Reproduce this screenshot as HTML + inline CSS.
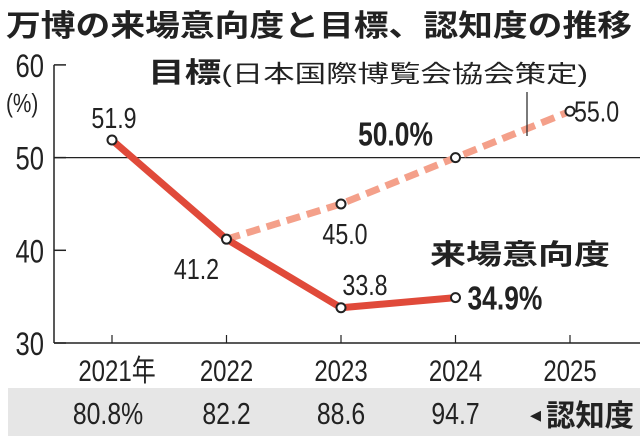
<!DOCTYPE html>
<html><head><meta charset="utf-8"><style>
body{margin:0;background:#fff;}
svg{display:block;font-family:"Liberation Sans","Noto Sans CJK JP",sans-serif;}
</style></head><body>
<svg width="640" height="440" viewBox="0 0 640 440">
<text x="6" y="36" font-size="30" font-weight="bold" fill="#222" textLength="626" lengthAdjust="spacingAndGlyphs">万博の来場意向度と目標、認知度の推移</text>
<g id="axes"></g>
<g id="series"></g>
<text x="148" y="82" font-size="28" font-weight="bold" fill="#222" textLength="440" lengthAdjust="spacingAndGlyphs">目標<tspan font-weight="normal" font-size="24">(日本国際博覧会協会策定)</tspan></text>
<line x1="527" y1="92" x2="527" y2="136" stroke="#222" stroke-width="1.2"/>
<text x="430" y="264" font-size="28" font-weight="bold" fill="#222" textLength="180" lengthAdjust="spacingAndGlyphs">来場意向度</text>
<rect x="8" y="388" width="632" height="48" fill="#e6e6e6"/>
<g id="aware"></g>
<text x="530" y="422" font-size="22" fill="#222">◂</text>
<text x="546" y="426" font-size="30" font-weight="bold" fill="#222" textLength="88" lengthAdjust="spacingAndGlyphs">認知度</text>
</svg>
<script>
const years=["2021年","2022","2023","2024","2025"];
const intent=[51.9,41.2,33.8,34.9];
const intentLabels=["51.9","41.2","33.8","34.9%"];
const targetYears=[1,2,3,4];
const targetVals=[41.2,45.0,50.0,55.0];
const targetLabels=[null,"45.0","50.0%","55.0"];
const yTicks=[30,40,50,60];
const awareness=["80.8%","82.2","88.6","94.7"];
const NS="http://www.w3.org/2000/svg";
const X=i=>112+i*114.5;
const Y=v=>343-(v-30)*9.27;
function mk(p,t,a){const e=document.createElementNS(NS,t);for(const k in a)e.setAttribute(k,a[k]);p.appendChild(e);return e;}
function txt(p,x,y,s,anchor,size,weight){
 const e=mk(p,'text',{x:0,y:0,transform:'translate('+x+','+y+') scale(0.8,1)','text-anchor':anchor,'font-size':size,'font-weight':weight||'normal',fill:'#222'});
 e.textContent=s;return e;
}
const ax=document.getElementById('axes'),se=document.getElementById('series'),aw=document.getElementById('aware');
let l=mk(ax,'line',{x1:54,y1:Y(60),x2:54,y2:Y(30),stroke:'#222','stroke-width':1.5});


l=mk(ax,'line',{x1:54,y1:Y(30),x2:640,y2:Y(30),stroke:'#222','stroke-width':1.5});


l=mk(ax,'line',{x1:54,y1:Y(50),x2:640,y2:Y(50),stroke:'#222','stroke-width':1.2});


yTicks.forEach(v=>{
 const t=mk(ax,'line',{x1:54,y1:Y(v),x2:66,y2:Y(v),stroke:'#222','stroke-width':1.5});
 
 
 const tx=txt(ax,44,Y(v)+12,String(v),'end',32);
 
 
});
const pc=txt(ax,6,112,'(%)','start',26);


years.forEach((y,i)=>{
 const t=mk(ax,'line',{x1:X(i),y1:Y(30),x2:X(i),y2:Y(30)-8,stroke:'#222','stroke-width':1.2});
 
 
 const tx=txt(ax,X(i)+(i==0?5:0),381,y,'middle',30);
 
 
});
awareness.forEach((a,i)=>{
 const tx=txt(aw,X(i)-(i==0?4:0),424,a,'middle',31);
 
 
});
let pts=targetYears.map((yi,k)=>X(yi)+','+Y(targetVals[k])).join(' ');
l=mk(se,'polyline',{points:pts,fill:'none',stroke:'#f4a08a','stroke-width':7,'stroke-dasharray':'14 7'});


pts=intent.map((v,i)=>X(i)+','+Y(v)).join(' ');
l=mk(se,'polyline',{points:pts,fill:'none',stroke:'#e04a3a','stroke-width':7,'stroke-linejoin':'round'});


targetYears.forEach((yi,k)=>{
 if(k==0)return;
 const c=mk(se,'circle',{cx:X(yi),cy:Y(targetVals[k]),r:4.5,fill:'#fff',stroke:'#222','stroke-width':2});
 
 
 const pos=[null,[X(yi)+4,Y(targetVals[k])+40,'middle',29,'normal'],[X(yi)-60,Y(targetVals[k])-12,'middle',33,'bold'],[X(yi)+4,Y(targetVals[k])+10,'start',29,'normal']][k];
 const tx=txt(se,pos[0],pos[1],targetLabels[k],pos[2],pos[3],pos[4]);
 
 
});
intent.forEach((v,i)=>{
 const c=mk(se,'circle',{cx:X(i),cy:Y(v),r:4.5,fill:'#fff',stroke:'#222','stroke-width':2});
 
 
 const pos=[[X(i)+2,Y(v)-12,'middle',29,'normal'],[X(i)-30,Y(v)+40,'middle',29,'normal'],[X(i)+24,Y(v)-13,'middle',29,'normal'],[X(i)+12,Y(v)+12,'start',33,'bold']][i];
 const tx=txt(se,pos[0],pos[1],intentLabels[i],pos[2],pos[3],pos[4]);
 
 
});
</script>
</body></html>
